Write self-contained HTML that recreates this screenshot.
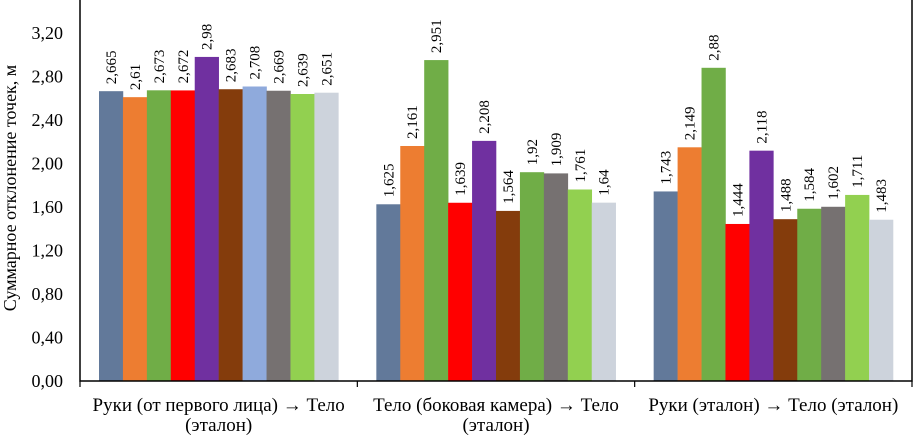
<!DOCTYPE html>
<html><head><meta charset="utf-8"><style>
html,body{margin:0;padding:0;background:#fff;width:913px;height:435px;overflow:hidden}
text{font-family:"Liberation Serif",serif;fill:#000}
</style></head><body>
<svg id="chart" width="913" height="435">
<g id="g"></g>
</svg>
<script>
const categories=[["Руки (от первого лица) → Тело","(эталон)"],["Тело (боковая камера) → Тело","(эталон)"],["Руки (эталон) → Тело (эталон)"]];
const g1=[2.665,2.61,2.673,2.672,2.98,2.683,2.708,2.669,2.639,2.651];
const g2=[1.625,2.161,2.951,1.639,2.208,1.564,1.92,1.909,1.761,1.64];
const g3=[1.743,2.149,2.88,1.444,2.118,1.488,1.584,1.602,1.711,1.483];
const labels1=["2,665","2,61","2,673","2,672","2,98","2,683","2,708","2,669","2,639","2,651"];
const labels2=["1,625","2,161","2,951","1,639","2,208","1,564","1,92","1,909","1,761","1,64"];
const labels3=["1,743","2,149","2,88","1,444","2,118","1,488","1,584","1,602","1,711","1,483"];
const ticks=[0,0.4,0.8,1.2,1.6,2.0,2.4,2.8,3.2];
const tickLabels=["0,00","0,40","0,80","1,20","1,60","2,00","2,40","2,80","3,20"];
const colors1=["#62799a","#ed7d31","#70ad47","#ff0000","#7030a0","#843c0c","#8faadc","#767171","#92d050","#cdd3dc"];
const colors2=["#62799a","#ed7d31","#70ad47","#ff0000","#7030a0","#843c0c","#70ad47","#767171","#92d050","#cdd3dc"];
const NS="http://www.w3.org/2000/svg";
const G=document.getElementById('g');
const L=80,R=912,B=381,T=33,MAX=3.2;
const y=v=>B-(v/MAX)*(B-T);
const gw=(R-L)/3;
function el(t,a){const e=document.createElementNS(NS,t);for(const k in a)e.setAttribute(k,a[k]);G.appendChild(e);return e;}
const groups=[[g1,labels1,colors1],[g2,labels2,colors2],[g3,labels3,colors2]];
groups.forEach((gr,gi)=>{
  const x0=L+gi*gw+19, bw=(gw-38)/gr[0].length;
  gr[0].forEach((v,i)=>{
    const r=el('rect',{x:x0+i*bw,y:y(v),width:bw+0.3,height:B-y(v),fill:gr[2][i]});
    
    
    const cx=x0+i*bw+bw/2+5, cy=y(v)-7;
    const t=el('text',{x:cx,y:cy,'font-size':15,transform:`rotate(-90 ${cx} ${cy})`});
    t.textContent=gr[1][i];
    
    
  });
  const lines=categories[gi];
  lines.forEach((s,li)=>{
    const t=el('text',{x:L+gi*gw+gw/2,y:411+li*20,'font-size':19,'text-anchor':'middle'});
    t.textContent=s;
    
    
  });
});
ticks.forEach((v,i)=>{
  const t=el('text',{x:63,y:y(v)+6,'font-size':18,'text-anchor':'end'});
  t.textContent=tickLabels[i];
  
  
});
const ax=el('path',{d:`M${L} 0V${B}H${R}V0`,stroke:'#000','stroke-width':1.5,fill:'none'});


for(let i=0;i<=3;i++){const tk=el('line',{x1:L+i*gw,x2:L+i*gw,y1:B,y2:B+6,stroke:'#000','stroke-width':1.2});

}
const yt=el('text',{x:16,y:188,'font-size':18,'text-anchor':'middle',transform:'rotate(-90 16 188)'});
yt.textContent='Суммарное отклонение точек, м';


</script>
</body></html>
